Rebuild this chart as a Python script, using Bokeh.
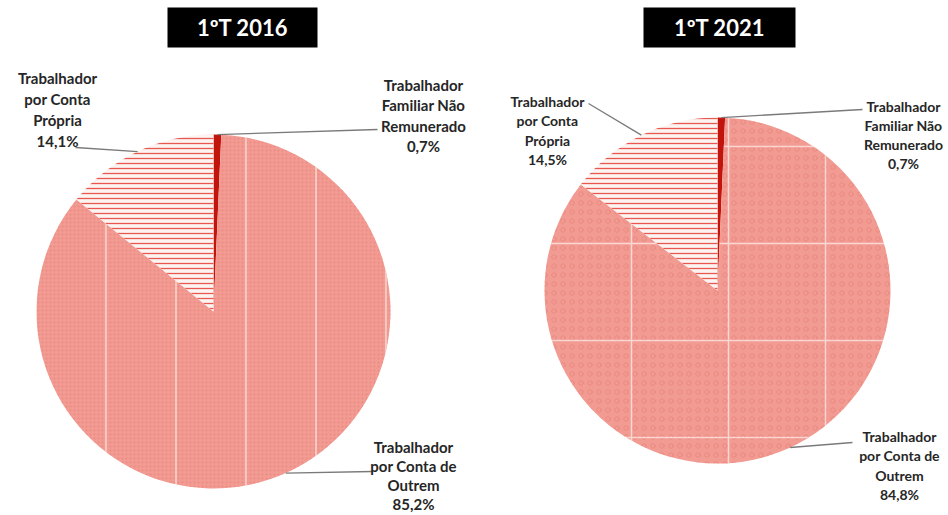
import math
from bokeh.plotting import figure
from bokeh.models import Range1d
from bokeh.core.properties import value
from bokeh.embed import file_html
from bokeh.resources import INLINE

# ---- data ----
categories = ["Trabalhador\nFamiliar Não\nRemunerado",
              "Trabalhador\npor Conta de\nOutrem",
              "Trabalhador\npor Conta\nPrópria"]
titles = ["1ºT 2016", "1ºT 2021"]
values_2016 = [0.7, 85.2, 14.1]
values_2021 = [0.7, 84.8, 14.5]
labels_2016 = ["0,7%", "85,2%", "14,1%"]
labels_2021 = ["0,7%", "84,8%", "14,5%"]

W, H = 948, 515
p = figure(width=W, height=H, output_backend="svg", toolbar_location=None,
           x_range=Range1d(0, W), y_range=Range1d(0, H),
           min_border=0, outline_line_color=None)
p.axis.visible = False
p.grid.visible = False
p.background_fill_color = "white"

def Y(v):
    return H - v

FONT = value("Lato")

def draw_pie(cx, cy, r, vals, pct, title, tbox, label_pos, anchors, right=False, fs="15px", lhs=(1.2, 1.2, 1.2)):
    cyd = Y(cy)
    total = sum(vals)
    starts, ends, mids = [], [], []
    acc = 0.0
    for v in vals:
        a0 = math.pi / 2 - acc / total * 2 * math.pi
        acc += v
        a1 = math.pi / 2 - acc / total * 2 * math.pi
        starts.append(a0); ends.append(a1); mids.append((a0 + a1) / 2)
    # Familiar (dark red)
    p.wedge(x=cx, y=cyd, radius=r, start_angle=starts[0], end_angle=ends[0],
            direction="clock", fill_color="#c0140c", line_color=None)
    # Outrem (salmon textured)
    p.wedge(x=cx, y=cyd, radius=r, start_angle=starts[1], end_angle=ends[1],
            direction="clock", fill_color="#f29b92", line_color=None,
            hatch_pattern="ring" if right else "dot", hatch_color="#e27970",
            hatch_scale=9 if right else 4, hatch_alpha=0.5, hatch_weight=1)
    p.wedge(x=cx, y=cyd, radius=r, start_angle=starts[1], end_angle=ends[1],
            direction="clock", fill_alpha=0, line_color=None,
            hatch_pattern="cross" if right else "vertical_line", hatch_color="white",
            hatch_scale=97 if right else 70, hatch_alpha=0.6, hatch_weight=1.5)
    # Própria (striped)
    p.wedge(x=cx, y=cyd, radius=r, start_angle=starts[2], end_angle=ends[2],
            direction="clock", fill_color="#fdf4f2", line_color=None,
            hatch_pattern="horizontal_line", hatch_color="#e5473c",
            hatch_scale=5, hatch_weight=1.3, hatch_alpha=0.9)
    # title box
    bx, by, bw, bh = tbox
    p.rect(x=bx, y=Y(by), width=bw, height=bh, fill_color="black", line_color=None)
    p.text(x=bx, y=Y(by), text=[title], text_color="white", text_font=FONT,
           text_font_style="bold", text_font_size="22px", text_align="center",
           text_baseline="middle")
    # labels and leaders
    for i in range(3):
        mx = cx + r * math.cos(mids[i])
        my = cyd + r * math.sin(mids[i])
        ax, ay = anchors[i]
        p.line(x=[mx, ax], y=[my, Y(ay)], line_color="#7a7a7a", line_width=1.3)
        lx, ly = label_pos[i]
        p.text(x=lx, y=Y(ly), text=[categories[i] + "\n" + pct[i]],
               text_color="#262626", text_font=FONT, text_font_style="bold",
               text_font_size=fs, text_align="center", text_baseline="top",
               text_line_height=lhs[i])

draw_pie(213, 311, 177, values_2016, labels_2016, titles[0], (242, 27, 150, 40),
         [(423, 75), (413, 437), (57, 68)],
         [(377, 129), (372, 471), (75, 147)], right=False, fs="15px",
         lhs=(1.14, 1.06, 1.17))
draw_pie(717, 290, 173, values_2021, labels_2021, titles[1], (719, 27, 152, 40),
         [(903, 97), (899, 427), (547, 92)],
         [(862, 109), (852, 442), (588, 103)], right=True, fs="14px",
         lhs=(1.12, 1.15, 1.15))

open("out.html", "w").write(file_html(p, INLINE))
